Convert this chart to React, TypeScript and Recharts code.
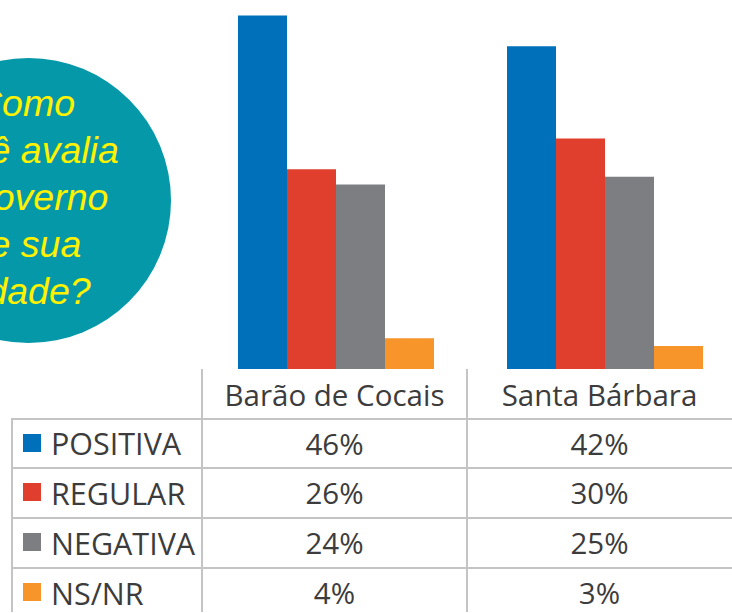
import React from "react";
import { BarChart, Bar, XAxis, YAxis } from "recharts";

// cidades e avaliação (%)
const cidades = ["Barão de Cocais", "Santa Bárbara"];
const avaliacoes = ["POSITIVA", "REGULAR", "NEGATIVA", "NS/NR"];
const positiva = [46, 42];
const regular = [26, 30];
const negativa = [24, 25];
const nsnr = [4, 3];
const cores = ["#0070BA", "#E03F2E", "#7D7E81", "#F7952B"];
const pergunta = ["Como", "você avalia", "o governo", "de sua", "cidade?"];

const series = [positiva, regular, negativa, nsnr];
const keys = ["positiva", "regular", "negativa", "nsnr"];

const data = cidades.map((c, i) => ({
  cidade: c,
  positiva: positiva[i],
  regular: regular[i],
  negativa: negativa[i],
  nsnr: nsnr[i],
}));

const lineColor = "#c4c4c4";
const textColor = "#3c3c3c";
const font = "'Open Sans', 'DejaVu Sans', sans-serif";

// table geometry
const colX = [12, 202, 467, 732];
const rowY = [370, 419, 468, 518, 568, 618];

export default function App() {
  return (
    <div
      style={{
        position: "absolute",
        left: 0,
        top: 0,
        width: 732,
        height: 613,
        overflow: "hidden",
        background: "#fff",
        fontFamily: font,
      }}
    >
      {/* pergunta */}
      <div
        style={{
          position: "absolute",
          left: -114,
          top: 58,
          width: 285,
          height: 285,
          borderRadius: "50%",
          background: "#0598A9",
        }}
      />
      <div
        style={{
          position: "absolute",
          left: -125,
          top: 80,
          width: 300,
          textAlign: "center",
          fontFamily: "'Liberation Sans', Arial, sans-serif",
          fontStyle: "italic",
          fontSize: 37.5,
          lineHeight: "47px",
          color: "#FFF200",
        }}
      >
        {pergunta.map((l) => (
          <div key={l}>{l}</div>
        ))}
      </div>

      <div style={{ position: "absolute", left: 0, top: 0 }}>
        <BarChart
          width={740}
          height={373}
          data={data}
          margin={{ top: 0, right: 0, left: 202, bottom: 4 }}
          barGap={0}
          barCategoryGap={36}
        >
          <XAxis
            dataKey="cidade"
            tick={false}
            tickLine={false}
            height={0}
            axisLine={{ stroke: lineColor, strokeWidth: 2 }}
          />
          <YAxis hide domain={[0, 48]} />
          {keys.map((k, i) => (
            <Bar key={k} dataKey={k} fill={cores[i]} isAnimationActive={false} />
          ))}
        </BarChart>
      </div>

      {/* tabela */}
      {rowY.slice(1, 5).map((y) => (
        <div
          key={"h" + y}
          style={{
            position: "absolute",
            left: colX[0],
            top: y - 1,
            width: 732 - colX[0],
            height: 2,
            background: lineColor,
          }}
        />
      ))}
      <div
        style={{
          position: "absolute",
          left: colX[0] - 1,
          top: rowY[1] - 1,
          width: 2,
          height: 613 - rowY[1],
          background: lineColor,
        }}
      />
      {[colX[1], colX[2]].map((x) => (
        <div
          key={"v" + x}
          style={{
            position: "absolute",
            left: x - 1,
            top: rowY[0] - 1,
            width: 2,
            height: 613 - rowY[0],
            background: lineColor,
          }}
        />
      ))}
      {cidades.map((c, i) => (
        <div
          key={c}
          style={{
            position: "absolute",
            left: colX[i + 1],
            top: rowY[0],
            width: colX[i + 2] - colX[i + 1],
            height: rowY[1] - rowY[0],
            lineHeight: rowY[1] - rowY[0] + "px",
            textAlign: "center",
            fontSize: 29.5,
            color: textColor,
          }}
        >
          {c}
        </div>
      ))}
      {avaliacoes.map((a, r) => (
        <React.Fragment key={a}>
          <div
            style={{
              position: "absolute",
              left: 23,
              top: (rowY[r + 1] + rowY[r + 2]) / 2 - 10,
              width: 18,
              height: 18,
              background: cores[r],
            }}
          />
          <div
            style={{
              position: "absolute",
              left: 51,
              top: rowY[r + 1],
              height: rowY[r + 2] - rowY[r + 1],
              lineHeight: rowY[r + 2] - rowY[r + 1] + "px",
              fontSize: 30.5,
              color: textColor,
              whiteSpace: "nowrap",
            }}
          >
            {a}
          </div>
          {cidades.map((c, i) => (
            <div
              key={c}
              style={{
                position: "absolute",
                left: colX[i + 1],
                top: rowY[r + 1],
                width: colX[i + 2] - colX[i + 1],
                height: rowY[r + 2] - rowY[r + 1],
                lineHeight: rowY[r + 2] - rowY[r + 1] + "px",
                textAlign: "center",
                fontSize: 29.5,
                color: textColor,
              }}
            >
              {series[r][i]}%
            </div>
          ))}
        </React.Fragment>
      ))}
    </div>
  );
}
